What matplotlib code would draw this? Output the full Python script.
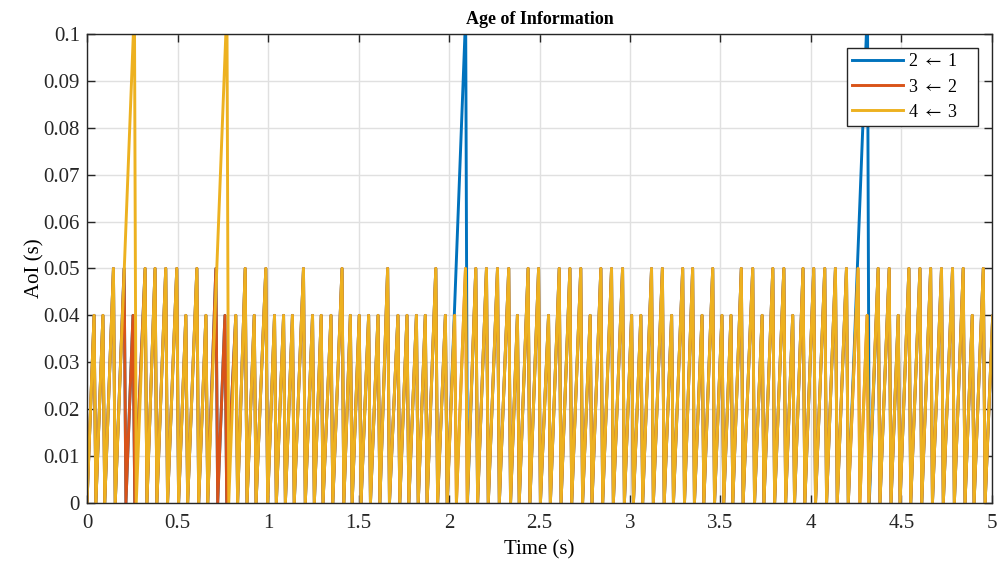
import numpy as np
import matplotlib
matplotlib.use("Agg")
import matplotlib.pyplot as plt
from matplotlib.ticker import FormatStrFormatter

plt.rcParams['font.family'] = ['Liberation Serif', 'DejaVu Serif']
plt.rcParams['mathtext.fontset'] = 'stix'

# shared AoI peaks (time in s, peak age in s)
peak_t = [0.039, 0.088, 0.146, 0.321, 0.376, 0.435, 0.496, 0.546, 0.607, 0.657,
          0.822, 0.874, 0.924, 0.988, 1.036, 1.086, 1.135, 1.196, 1.246, 1.294,
          1.348, 1.409, 1.455, 1.504, 1.556, 1.608, 1.661, 1.718, 1.768, 1.820,
          1.869, 1.927, 1.980, 2.031, 2.091, 2.148, 2.207, 2.268, 2.330, 2.378,
          2.437, 2.495, 2.550, 2.609, 2.668, 2.728, 2.780, 2.839, 2.898, 2.959,
          3.009, 3.060, 3.119, 3.179, 3.230, 3.291, 3.346, 3.398, 3.457, 3.508,
          3.558, 3.615, 3.678, 3.730, 3.789, 3.850, 3.899, 3.956, 4.015, 4.076,
          4.135, 4.196, 4.260, 4.310, 4.371, 4.432, 4.482, 4.541, 4.602, 4.661,
          4.721, 4.782, 4.841, 4.891, 4.952, 5.004]
peak_v = [0.04, 0.04, 0.05, 0.05, 0.05, 0.05, 0.05, 0.04, 0.05, 0.04,
          0.04, 0.05, 0.04, 0.05, 0.04, 0.04, 0.04, 0.05, 0.04, 0.04,
          0.04, 0.05, 0.04, 0.04, 0.04, 0.04, 0.05, 0.04, 0.04, 0.04,
          0.04, 0.05, 0.04, 0.04, 0.05, 0.05, 0.05, 0.05, 0.05, 0.04,
          0.05, 0.05, 0.04, 0.05, 0.05, 0.05, 0.04, 0.05, 0.05, 0.05,
          0.04, 0.04, 0.05, 0.05, 0.04, 0.05, 0.05, 0.04, 0.05, 0.04,
          0.04, 0.05, 0.05, 0.04, 0.05, 0.05, 0.04, 0.05, 0.05, 0.05,
          0.05, 0.05, 0.05, 0.04, 0.05, 0.05, 0.04, 0.05, 0.05, 0.05,
          0.05, 0.05, 0.05, 0.04, 0.05, 0.04]

# where each link leaves the shared pattern
blue_skip = [2.031, 2.091, 4.260, 4.310]
blue_extra_t = [0.205, 0.254, 0.712, 0.762, 2.092, 4.312]
blue_extra_v = [0.05, 0.04, 0.05, 0.04, 0.104, 0.106]
red_extra_t = [0.205, 0.254, 0.712, 0.762]
red_extra_v = [0.05, 0.04, 0.05, 0.04]
yellow_extra_t = [0.262, 0.773]
yellow_extra_v = [0.106, 0.106]

labels = [r'2 $\leftarrow$ 1    ', r'3 $\leftarrow$ 2    ', r'4 $\leftarrow$ 3    ']
colors = ['#0072BD', '#D95319', '#EDB120']

RESET = 0.01  # one sample to drop back to zero


def sawtooth(ts, vs, skip=()):
    pairs = sorted((t, v) for t, v in zip(ts, vs) if t not in skip)
    x, y = [0.0], [0.0]
    for t, v in pairs:
        x += [t, t + RESET]
        y += [v, 0.0]
    return np.array(x), np.array(y)


series = [
    sawtooth(peak_t + blue_extra_t, peak_v + blue_extra_v, blue_skip),
    sawtooth(peak_t + red_extra_t, peak_v + red_extra_v),
    sawtooth(peak_t + yellow_extra_t, peak_v + yellow_extra_v),
]

fig = plt.figure(figsize=(10.07, 5.62), dpi=100)
ax = fig.add_axes([0.0864, 0.105, 0.8987, 0.8345])

for (x, y), c, lab in zip(series, colors, labels):
    ax.plot(x, y, color=c, lw=2.1, label=lab)

ax.set_xlim(0, 5)
ax.set_ylim(0, 0.1)
ax.set_xticks(np.arange(0, 5.01, 0.5))
ax.set_yticks(np.arange(0, 0.1001, 0.01))
ax.xaxis.set_major_formatter(FormatStrFormatter('%g'))
ax.yaxis.set_major_formatter(FormatStrFormatter('%g'))
ax.tick_params(direction='in', top=True, right=True, length=6, width=1,
               labelsize=15, colors='#262626', pad=5)
ax.tick_params(axis='x', pad=8)
ax.grid(True, color='#e0e0e0', lw=1.0)
ax.set_axisbelow(True)
for s in ax.spines.values():
    s.set_color('#262626')
    s.set_linewidth(1.0)

ax.set_title('Age of Information', fontsize=13, fontweight='bold', pad=7)
ax.set_xlabel('Time (s)', fontsize=15, labelpad=5)
ax.set_ylabel('AoI (s)', fontsize=15, labelpad=-1)

leg = ax.legend(loc='upper right', fontsize=13, fancybox=False, framealpha=1,
                edgecolor='#262626', handlelength=2.8, borderpad=0.3,
                labelspacing=0.45, handletextpad=0.3, borderaxespad=0,
                bbox_to_anchor=(0.9845, 0.970))
leg.get_frame().set_linewidth(1.0)

fig.savefig('out.png', dpi=100)
